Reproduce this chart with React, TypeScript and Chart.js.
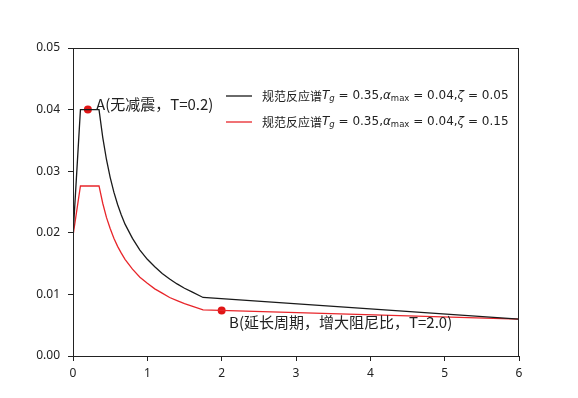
import React, { useEffect, useRef } from "react";
import { Chart, registerables } from "chart.js";

Chart.register(...registerables);

const periods = [0, 0.1, 0.35, 0.4, 0.45, 0.5, 0.55, 0.6, 0.65, 0.7, 0.8, 0.9, 1.0, 1.1, 1.2, 1.3, 1.4, 1.5, 1.6, 1.75, 6];
const spectrumDamp05 = [0.0195, 0.04, 0.04, 0.0355, 0.0319, 0.029, 0.0266, 0.0246, 0.0229, 0.0214, 0.0191, 0.0172, 0.0157, 0.0145, 0.0134, 0.0125, 0.0117, 0.011, 0.0104, 0.0095, 0.006];
const spectrumDamp15 = [0.0195, 0.0276, 0.0276, 0.0248, 0.0225, 0.0207, 0.0191, 0.0178, 0.0167, 0.0157, 0.0141, 0.0128, 0.0118, 0.0109, 0.0102, 0.0095, 0.009, 0.0085, 0.0081, 0.0075, 0.006];

const markPoints = [
  { x: 0.2, y: 0.04, label: "A(无减震，T=0.2)", lx: 0.31, ly: 0.0409 },
  { x: 2.0, y: 0.0074, label: "B(延长周期，增大阻尼比，T=2.0)", lx: 2.1, ly: 0.0054 },
];

const xTicks = [0, 1, 2, 3, 4, 5, 6];
const yTicks = [0, 0.01, 0.02, 0.03, 0.04, 0.05];

const legendItems = [
  { color: "#1a1a1a", zeta: "0.05" },
  { color: "#e8262b", zeta: "0.15" },
];

const CJK = '"Noto Sans CJK SC", "Noto Sans", sans-serif';
const MATH = '"DejaVu Sans", sans-serif';

const overlayPlugin = {
  id: "overlay",
  afterDraw(chart: any) {
    const { ctx, chartArea, scales } = chart;
    ctx.save();
    // full frame
    ctx.strokeStyle = "#222";
    ctx.lineWidth = 1;
    ctx.strokeRect(chartArea.left + 0.5, chartArea.top + 0.5, chartArea.right - chartArea.left - 1, chartArea.bottom - chartArea.top);
    // annotations
    ctx.font = `15px ${CJK}`;
    ctx.fillStyle = "#222";
    ctx.textBaseline = "middle";
    ctx.textAlign = "left";
    for (const p of markPoints) {
      ctx.fillText(p.label, scales.x.getPixelForValue(p.lx), scales.y.getPixelForValue(p.ly));
    }
    // legend
    const baseX = chartArea.right - 293;
    const rows = [chartArea.top + 48, chartArea.top + 74];
    legendItems.forEach((item, i) => {
      const y = rows[i];
      ctx.strokeStyle = item.color;
      ctx.lineWidth = 1.3;
      ctx.beginPath();
      ctx.moveTo(baseX, y);
      ctx.lineTo(baseX + 26, y);
      ctx.stroke();
      const segs: { t: string; f: string; dy: number }[] = [
        { t: "规范反应谱", f: `12px ${CJK}`, dy: 0 },
        { t: "T", f: `italic 12px ${MATH}`, dy: 0 },
        { t: "g", f: `italic 8.5px ${MATH}`, dy: 3 },
        { t: " = 0.35,", f: `12px ${MATH}`, dy: 0 },
        { t: "α", f: `italic 12px ${MATH}`, dy: 0 },
        { t: "max", f: `8.5px ${MATH}`, dy: 3 },
        { t: " = 0.04,", f: `12px ${MATH}`, dy: 0 },
        { t: "ζ", f: `italic 12px ${MATH}`, dy: 0 },
        { t: " = " + item.zeta, f: `12px ${MATH}`, dy: 0 },
      ];
      let x = baseX + 36;
      ctx.fillStyle = "#222";
      for (const s of segs) {
        ctx.font = s.f;
        ctx.fillText(s.t, x, y + s.dy);
        x += ctx.measureText(s.t).width;
      }
    });
    ctx.restore();
  },
};

export default function App() {
  const ref = useRef<HTMLCanvasElement | null>(null);
  useEffect(() => {
    document.body.style.margin = "0";
    const canvas = ref.current!;
    const toPts = (ys: number[]) => periods.map((x, i) => ({ x, y: ys[i] }));
    const chart = new Chart(canvas, {
      type: "line",
      data: {
        datasets: [
          {
            data: toPts(spectrumDamp05),
            borderColor: "#1a1a1a",
            borderWidth: 1.3,
            pointRadius: 0,
            tension: 0,
          },
          {
            data: toPts(spectrumDamp15),
            borderColor: "#e8262b",
            borderWidth: 1.3,
            pointRadius: 0,
            tension: 0,
          },
          {
            data: markPoints.map((p) => ({ x: p.x, y: p.y })),
            showLine: false,
            pointRadius: 4,
            pointBackgroundColor: "#e01515",
            pointBorderWidth: 0,
            borderColor: "#e01515",
          },
        ],
      },
      options: {
        animation: false,
        responsive: false,
        layout: { padding: { left: 0, top: 48, right: 59, bottom: 0 } },
        plugins: { legend: { display: false }, tooltip: { enabled: false } },
        scales: {
          x: {
            type: "linear",
            min: 0,
            max: 6,
            afterBuildTicks: (axis: any) => {
              axis.ticks = xTicks.map((v) => ({ value: v }));
            },
            afterFit: (axis: any) => {
              axis.height = 42;
            },
            ticks: {
              color: "#222",
              font: { family: "Noto Sans", size: 12 },
              padding: 5,
              callback: (v: any) => String(v),
              maxRotation: 0,
            },
            grid: { drawOnChartArea: false, tickLength: 5, tickColor: "#222" },
            border: { color: "#222", width: 1 },
          },
          y: {
            type: "linear",
            min: 0,
            max: 0.05,
            afterBuildTicks: (axis: any) => {
              axis.ticks = yTicks.map((v) => ({ value: v }));
            },
            afterFit: (axis: any) => {
              axis.width = 73;
            },
            ticks: {
              color: "#222",
              font: { family: "Noto Sans", size: 12 },
              padding: 8,
              callback: (v: any) => Number(v).toFixed(2),
            },
            grid: { drawOnChartArea: false, tickLength: 5, tickColor: "#222" },
            border: { color: "#222", width: 1 },
          },
        },
      },
      plugins: [overlayPlugin],
    });
    return () => chart.destroy();
  }, []);
  return <canvas ref={ref} width={578} height={398} style={{ display: "block" }} />;
}
